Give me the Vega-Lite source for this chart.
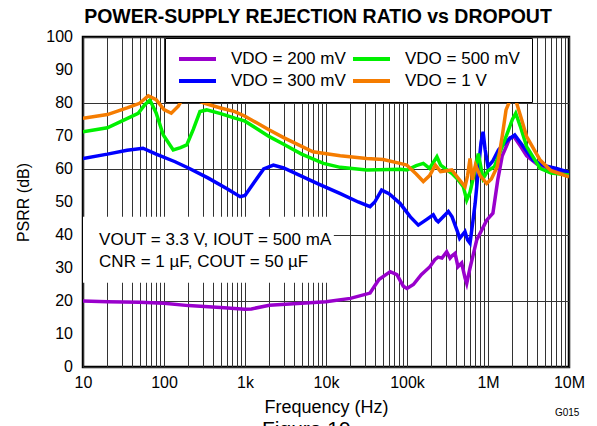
{
  "$schema": "https://vega.github.io/schema/vega-lite/v6.json",
  "width": 486,
  "height": 330,
  "autosize": {"type": "none"},
  "padding": {"left": 83, "top": 37, "right": 28, "bottom": 59},
  "title": {"text": "POWER-SUPPLY REJECTION RATIO vs DROPOUT", "fontSize": 19.5, "font": "Liberation Sans", "fontWeight": "bold", "offset": 2, "dx": -8, "color": "black"},
  "config": {
    "view": {"stroke": "black", "strokeWidth": 2.5},
    "axis": {"labelFont": "Liberation Sans", "titleFont": "Liberation Sans", "labelColor": "black", "titleColor": "black", "titleFontWeight": "normal", "domain": false, "ticks": false, "gridColor": "#333", "gridOpacity": 1, "gridWidth": 1, "labelFlush": false}
  },
  "datasets": {
    "psrr": [
      {"s": "200 mV", "f": 10, "db": 20.0}, {"s": "200 mV", "f": 20, "db": 19.8}, {"s": "200 mV", "f": 50, "db": 19.6}, {"s": "200 mV", "f": 100, "db": 19.3}, {"s": "200 mV", "f": 200, "db": 18.6}, {"s": "200 mV", "f": 500, "db": 18.0}, {"s": "200 mV", "f": 1000, "db": 17.5}, {"s": "200 mV", "f": 1200, "db": 17.6}, {"s": "200 mV", "f": 2000, "db": 18.7}, {"s": "200 mV", "f": 5000, "db": 19.3}, {"s": "200 mV", "f": 10000, "db": 19.8}, {"s": "200 mV", "f": 20000, "db": 20.8}, {"s": "200 mV", "f": 35000, "db": 22.4}, {"s": "200 mV", "f": 45000, "db": 26.5}, {"s": "200 mV", "f": 55000, "db": 28.0}, {"s": "200 mV", "f": 62000, "db": 28.9}, {"s": "200 mV", "f": 75000, "db": 28.0}, {"s": "200 mV", "f": 90000, "db": 24.5}, {"s": "200 mV", "f": 100000, "db": 23.8}, {"s": "200 mV", "f": 120000, "db": 25.0}, {"s": "200 mV", "f": 150000, "db": 28.0}, {"s": "200 mV", "f": 192000, "db": 30.4}, {"s": "200 mV", "f": 220000, "db": 32.5}, {"s": "200 mV", "f": 242000, "db": 33.3}, {"s": "200 mV", "f": 270000, "db": 33.0}, {"s": "200 mV", "f": 309000, "db": 34.9}, {"s": "200 mV", "f": 340000, "db": 33.0}, {"s": "200 mV", "f": 357000, "db": 33.6}, {"s": "200 mV", "f": 392000, "db": 34.4}, {"s": "200 mV", "f": 426000, "db": 30.4}, {"s": "200 mV", "f": 473000, "db": 31.5}, {"s": "200 mV", "f": 520000, "db": 27.0}, {"s": "200 mV", "f": 546000, "db": 25.3}, {"s": "200 mV", "f": 600000, "db": 30.0}, {"s": "200 mV", "f": 726000, "db": 38.5}, {"s": "200 mV", "f": 964000, "db": 44.5}, {"s": "200 mV", "f": 1150000, "db": 46.6}, {"s": "200 mV", "f": 1320000, "db": 56.7}, {"s": "200 mV", "f": 1500000, "db": 64.0}, {"s": "200 mV", "f": 1870000, "db": 69.5}, {"s": "200 mV", "f": 2100000, "db": 69.8}, {"s": "200 mV", "f": 2500000, "db": 67.0}, {"s": "200 mV", "f": 3000000, "db": 64.0}, {"s": "200 mV", "f": 4000000, "db": 61.5}, {"s": "200 mV", "f": 6000000, "db": 60.0}, {"s": "200 mV", "f": 10000000, "db": 58.5},
      {"s": "300 mV", "f": 10, "db": 63.2}, {"s": "300 mV", "f": 20, "db": 64.5}, {"s": "300 mV", "f": 35, "db": 65.7}, {"s": "300 mV", "f": 55, "db": 66.3}, {"s": "300 mV", "f": 80, "db": 64.5}, {"s": "300 mV", "f": 137, "db": 62.2}, {"s": "300 mV", "f": 200, "db": 60.3}, {"s": "300 mV", "f": 348, "db": 57.3}, {"s": "300 mV", "f": 600, "db": 54.0}, {"s": "300 mV", "f": 871, "db": 51.6}, {"s": "300 mV", "f": 1000, "db": 52.0}, {"s": "300 mV", "f": 1300, "db": 56.0}, {"s": "300 mV", "f": 1700, "db": 60.0}, {"s": "300 mV", "f": 2240, "db": 61.2}, {"s": "300 mV", "f": 3000, "db": 60.3}, {"s": "300 mV", "f": 5800, "db": 57.1}, {"s": "300 mV", "f": 8000, "db": 55.5}, {"s": "300 mV", "f": 14800, "db": 52.6}, {"s": "300 mV", "f": 25000, "db": 50.0}, {"s": "300 mV", "f": 35000, "db": 48.6}, {"s": "300 mV", "f": 40000, "db": 50.0}, {"s": "300 mV", "f": 48600, "db": 53.6}, {"s": "300 mV", "f": 60000, "db": 52.5}, {"s": "300 mV", "f": 82000, "db": 49.6}, {"s": "300 mV", "f": 110000, "db": 45.5}, {"s": "300 mV", "f": 138000, "db": 43.0}, {"s": "300 mV", "f": 170000, "db": 44.5}, {"s": "300 mV", "f": 211000, "db": 46.1}, {"s": "300 mV", "f": 230000, "db": 44.5}, {"s": "300 mV", "f": 243000, "db": 44.0}, {"s": "300 mV", "f": 280000, "db": 45.5}, {"s": "300 mV", "f": 324000, "db": 47.1}, {"s": "300 mV", "f": 360000, "db": 45.5}, {"s": "300 mV", "f": 420000, "db": 41.0}, {"s": "300 mV", "f": 447000, "db": 39.0}, {"s": "300 mV", "f": 520000, "db": 41.0}, {"s": "300 mV", "f": 560000, "db": 38.5}, {"s": "300 mV", "f": 600000, "db": 37.5}, {"s": "300 mV", "f": 650000, "db": 44.0}, {"s": "300 mV", "f": 694000, "db": 49.6}, {"s": "300 mV", "f": 760000, "db": 59.7}, {"s": "300 mV", "f": 820000, "db": 68.0}, {"s": "300 mV", "f": 870000, "db": 71.3}, {"s": "300 mV", "f": 920000, "db": 66.0}, {"s": "300 mV", "f": 1000000, "db": 60.7}, {"s": "300 mV", "f": 1150000, "db": 62.5}, {"s": "300 mV", "f": 1350000, "db": 65.8}, {"s": "300 mV", "f": 1700000, "db": 68.5}, {"s": "300 mV", "f": 2140000, "db": 70.3}, {"s": "300 mV", "f": 2600000, "db": 67.5}, {"s": "300 mV", "f": 3600000, "db": 62.7}, {"s": "300 mV", "f": 5000000, "db": 61.0}, {"s": "300 mV", "f": 7000000, "db": 60.2}, {"s": "300 mV", "f": 10000000, "db": 59.0},
      {"s": "500 mV", "f": 10, "db": 71.3}, {"s": "500 mV", "f": 20, "db": 72.5}, {"s": "500 mV", "f": 30, "db": 74.5}, {"s": "500 mV", "f": 48, "db": 76.9}, {"s": "500 mV", "f": 58, "db": 79.5}, {"s": "500 mV", "f": 67, "db": 80.9}, {"s": "500 mV", "f": 80, "db": 77.0}, {"s": "500 mV", "f": 98, "db": 70.3}, {"s": "500 mV", "f": 130, "db": 65.8}, {"s": "500 mV", "f": 160, "db": 66.5}, {"s": "500 mV", "f": 191, "db": 67.3}, {"s": "500 mV", "f": 230, "db": 72.0}, {"s": "500 mV", "f": 278, "db": 77.4}, {"s": "500 mV", "f": 336, "db": 77.9}, {"s": "500 mV", "f": 500, "db": 76.8}, {"s": "500 mV", "f": 750, "db": 75.4}, {"s": "500 mV", "f": 1000, "db": 74.5}, {"s": "500 mV", "f": 2000, "db": 69.8}, {"s": "500 mV", "f": 3000, "db": 67.5}, {"s": "500 mV", "f": 5000, "db": 64.5}, {"s": "500 mV", "f": 9300, "db": 61.7}, {"s": "500 mV", "f": 15000, "db": 60.5}, {"s": "500 mV", "f": 31800, "db": 59.7}, {"s": "500 mV", "f": 82000, "db": 59.9}, {"s": "500 mV", "f": 100000, "db": 59.7}, {"s": "500 mV", "f": 130000, "db": 61.0}, {"s": "500 mV", "f": 159000, "db": 61.7}, {"s": "500 mV", "f": 190000, "db": 60.2}, {"s": "500 mV", "f": 234000, "db": 63.7}, {"s": "500 mV", "f": 260000, "db": 61.2}, {"s": "500 mV", "f": 300000, "db": 60.0}, {"s": "500 mV", "f": 357000, "db": 58.7}, {"s": "500 mV", "f": 420000, "db": 57.0}, {"s": "500 mV", "f": 496000, "db": 54.6}, {"s": "500 mV", "f": 546000, "db": 50.6}, {"s": "500 mV", "f": 600000, "db": 53.0}, {"s": "500 mV", "f": 650000, "db": 56.7}, {"s": "500 mV", "f": 759000, "db": 64.7}, {"s": "500 mV", "f": 870000, "db": 57.1}, {"s": "500 mV", "f": 1000000, "db": 59.5}, {"s": "500 mV", "f": 1200000, "db": 60.7}, {"s": "500 mV", "f": 1670000, "db": 69.8}, {"s": "500 mV", "f": 2000000, "db": 75.0}, {"s": "500 mV", "f": 2200000, "db": 76.9}, {"s": "500 mV", "f": 2500000, "db": 73.0}, {"s": "500 mV", "f": 3000000, "db": 66.8}, {"s": "500 mV", "f": 4400000, "db": 60.2}, {"s": "500 mV", "f": 6000000, "db": 58.8}, {"s": "500 mV", "f": 10000000, "db": 58.2},
      {"s": "1 V", "f": 10, "db": 75.4}, {"s": "1 V", "f": 20, "db": 76.5}, {"s": "1 V", "f": 35, "db": 78.5}, {"s": "1 V", "f": 50, "db": 79.9}, {"s": "1 V", "f": 64, "db": 82.2}, {"s": "1 V", "f": 80, "db": 81.0}, {"s": "1 V", "f": 100, "db": 78.0}, {"s": "1 V", "f": 123, "db": 76.9}, {"s": "1 V", "f": 150, "db": 79.0}, {"s": "1 V", "f": 166, "db": 80.9}, {"s": "1 V", "f": 220, "db": 81.5}, {"s": "1 V", "f": 318, "db": 79.9}, {"s": "1 V", "f": 500, "db": 78.5}, {"s": "1 V", "f": 750, "db": 77.4}, {"s": "1 V", "f": 1000, "db": 76.0}, {"s": "1 V", "f": 2000, "db": 71.8}, {"s": "1 V", "f": 3000, "db": 69.5}, {"s": "1 V", "f": 6900, "db": 65.2}, {"s": "1 V", "f": 15000, "db": 64.0}, {"s": "1 V", "f": 31800, "db": 63.2}, {"s": "1 V", "f": 51000, "db": 62.9}, {"s": "1 V", "f": 82000, "db": 61.7}, {"s": "1 V", "f": 99000, "db": 61.2}, {"s": "1 V", "f": 130000, "db": 58.5}, {"s": "1 V", "f": 159000, "db": 56.2}, {"s": "1 V", "f": 190000, "db": 58.0}, {"s": "1 V", "f": 224000, "db": 61.2}, {"s": "1 V", "f": 260000, "db": 59.2}, {"s": "1 V", "f": 310000, "db": 59.5}, {"s": "1 V", "f": 357000, "db": 59.7}, {"s": "1 V", "f": 420000, "db": 57.5}, {"s": "1 V", "f": 520000, "db": 54.6}, {"s": "1 V", "f": 560000, "db": 58.0}, {"s": "1 V", "f": 600000, "db": 63.2}, {"s": "1 V", "f": 640000, "db": 56.7}, {"s": "1 V", "f": 700000, "db": 61.2}, {"s": "1 V", "f": 800000, "db": 58.0}, {"s": "1 V", "f": 964000, "db": 55.6}, {"s": "1 V", "f": 1100000, "db": 57.0}, {"s": "1 V", "f": 1300000, "db": 60.7}, {"s": "1 V", "f": 1500000, "db": 70.0}, {"s": "1 V", "f": 1670000, "db": 77.9}, {"s": "1 V", "f": 1870000, "db": 80.9}, {"s": "1 V", "f": 2000000, "db": 83.0}, {"s": "1 V", "f": 2200000, "db": 80.9}, {"s": "1 V", "f": 2600000, "db": 75.0}, {"s": "1 V", "f": 3000000, "db": 69.8}, {"s": "1 V", "f": 4400000, "db": 62.7}, {"s": "1 V", "f": 6000000, "db": 59.5}, {"s": "1 V", "f": 10000000, "db": 57.6}
    ],
    "box": [{"x1": 10, "x2": 12500, "y1": 25.5, "y2": 45.5}],
    "notes": [
      {"f": 15.8, "db": 38.6, "t": "VOUT = 3.3 V, IOUT = 500 mA", "size": 17, "w": "normal"},
      {"f": 15.8, "db": 31.7, "t": "CNR = 1 µF, COUT = 50 µF", "size": 17, "w": "normal"},
      {"f": 6700000, "db": -13.8, "t": "G015", "size": 10, "w": "normal"},
      {"f": 1620, "db": -19.2, "t": "Figure 19", "size": 21, "w": "bold"}
    ],
    "ylab": [{"f": 10, "v": 0}, {"f": 10, "v": 10}, {"f": 10, "v": 20}, {"f": 10, "v": 30}, {"f": 10, "v": 40}, {"f": 10, "v": 50}, {"f": 10, "v": 60}, {"f": 10, "v": 70}, {"f": 10, "v": 80}, {"f": 10, "v": 90}, {"f": 10, "v": 100}]
  },
  "layer": [
    {
      "data": {"name": "psrr"},
      "mark": {"type": "line", "strokeWidth": 3.5, "clip": true},
      "encoding": {
        "x": {"field": "f", "type": "quantitative", "scale": {"type": "log", "domain": [10, 10000000]},
          "axis": {"title": "Frequency (Hz)", "titleFontSize": 18, "titlePadding": 8, "labelFontSize": 16, "labelPadding": 7, "grid": true, "labelOverlap": false, "labelFlush": false,
            "values": [10,20,30,40,50,60,70,80,90,100,200,300,400,500,600,700,800,900,1000,2000,3000,4000,5000,6000,7000,8000,9000,10000,20000,30000,40000,50000,60000,70000,80000,90000,100000,200000,300000,400000,500000,600000,700000,800000,900000,1000000,2000000,3000000,4000000,5000000,6000000,7000000,8000000,9000000,10000000],
            "labelExpr": "datum.value == 10 ? '10' : datum.value == 100 ? '100' : datum.value == 1000 ? '1k' : datum.value == 10000 ? '10k' : datum.value == 100000 ? '100k' : datum.value == 1000000 ? '1M' : datum.value == 10000000 ? '10M' : ''"}},
        "y": {"field": "db", "type": "quantitative", "scale": {"domain": [0, 100], "nice": false},
          "axis": {"title": "PSRR (dB)", "titleFontSize": 16, "titlePadding": 52, "labels": false, "values": [0,10,20,30,40,50,60,70,80,90,100], "grid": true}},
        "color": {"field": "s", "type": "nominal",
          "scale": {"domain": ["200 mV", "300 mV", "500 mV", "1 V"], "range": ["#9900CC", "#0000FF", "#00F000", "#F57C00"]},
          "legend": {"orient": "none", "legendX": 82, "legendY": 1, "columns": 2, "title": null,
            "fillColor": "white", "strokeColor": "black", "padding": 12,
            "symbolType": "stroke", "symbolSize": 1369, "symbolStrokeWidth": 4, "clipHeight": 18,
            "labelFont": "Liberation Sans", "labelFontSize": 17, "labelColor": "black", "labelOffset": 13,
            "columnPadding": 5, "rowPadding": 4,
            "labelExpr": "'VDO = ' + datum.label"}
        },
        "order": {"field": "f", "type": "quantitative"}
      }
    },
    {
      "data": {"name": "box"},
      "mark": {"type": "rect", "fill": "white"},
      "encoding": {
        "x": {"field": "x1", "type": "quantitative", "scale": {"type": "log", "domain": [10, 10000000]}},
        "x2": {"field": "x2"},
        "y": {"field": "y1", "type": "quantitative", "scale": {"domain": [0, 100], "nice": false}},
        "y2": {"field": "y2"}
      }
    },
    {
      "data": {"name": "notes"},
      "mark": {"type": "text", "align": "left", "baseline": "middle", "font": "Liberation Sans", "color": "black", "clip": false},
      "encoding": {
        "x": {"field": "f", "type": "quantitative", "scale": {"type": "log", "domain": [10, 10000000]}},
        "y": {"field": "db", "type": "quantitative", "scale": {"domain": [0, 100], "nice": false}},
        "text": {"field": "t"},
        "size": {"field": "size", "type": "quantitative", "scale": null},
        "fontWeight": {"field": "w", "type": "nominal", "scale": null}
      }
    },
    {
      "data": {"name": "ylab"},
      "mark": {"type": "text", "align": "right", "baseline": "middle", "dx": -10, "font": "Liberation Sans", "fontSize": 16, "color": "black", "clip": false},
      "encoding": {
        "x": {"field": "f", "type": "quantitative", "scale": {"type": "log", "domain": [10, 10000000]}},
        "y": {"field": "v", "type": "quantitative", "scale": {"domain": [0, 100], "nice": false}},
        "text": {"field": "v", "type": "quantitative", "format": "d"}
      }
    }
  ]
}
